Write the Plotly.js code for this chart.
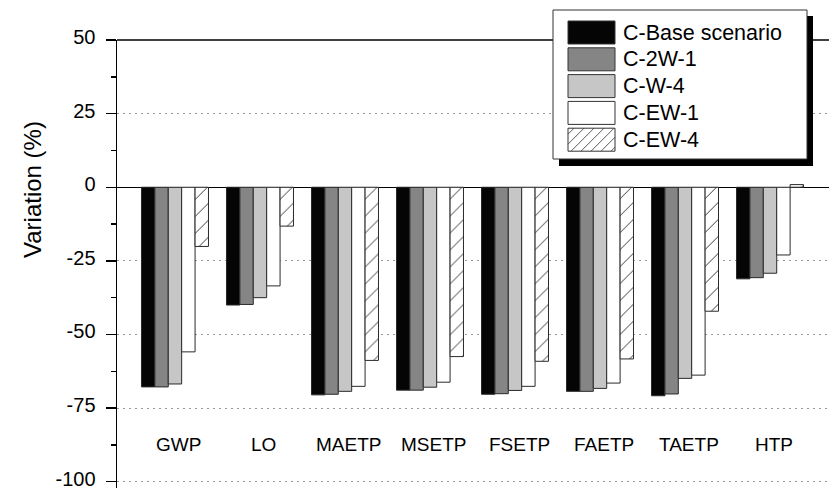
<!DOCTYPE html>
<html>
<head>
<meta charset="utf-8">
<script src="https://cdn.plot.ly/plotly-3.0.1.min.js"></script>
<style>
  html, body { margin: 0; padding: 0; overflow: hidden; background: #fff; }
  #chart { width: 833px; height: 500px; }
</style>
</head>
<body>
<div id="chart"></div>
<script>
// Impact categories
const categories = ['GWP', 'LO', 'MAETP', 'MSETP', 'FSETP', 'FAETP', 'TAETP', 'HTP'];

// Variation (%) per scenario
const seriesNames = ['C-Base scenario', 'C-2W-1', 'C-W-4', 'C-EW-1', 'C-EW-4'];
const baseScenario = [-67.8, -40.0, -70.5, -68.9, -70.3, -69.3, -70.8, -31.1];
const c2w1        = [-67.8, -39.8, -70.3, -68.9, -70.1, -69.3, -70.2, -30.7];
const cw4         = [-66.8, -37.5, -69.3, -67.9, -69.0, -68.3, -64.9, -29.2];
const cew1        = [-55.9, -33.5, -67.6, -66.2, -67.6, -66.5, -63.8, -23.0];
const cew4        = [-20.1, -13.2, -58.8, -57.5, -59.1, -58.3, -42.1, 0.9];

// Y-axis ticks (plain hyphen for negatives)
const yTickVals = [50, 25, 0, -25, -50, -75, -100];
const yTickText = ['50', '25', '0', '-25', '-50', '-75', '-100'];
const yMinorVals = [37.5, 12.5, -12.5, -37.5, -62.5, -87.5];

const seriesValues = [baseScenario, c2w1, cw4, cew1, cew4];
const fills = ['#050505', '#858585', '#c6c6c6', '#ffffff', '#ffffff'];
const hatched = [false, false, false, false, true];

const FONT = 'Liberation Sans, Arial, Helvetica, sans-serif';

const traces = seriesValues.map((vals, i) => {
  const marker = {
    color: fills[i],
    line: { color: '#2a2a2a', width: 1 }
  };
  if (hatched[i]) {
    marker.pattern = { shape: '/', size: 12, solidity: 0.08, fgcolor: '#333', bgcolor: '#ffffff', fillmode: 'replace' };
  }
  return {
    type: 'bar',
    name: seriesNames[i],
    x: categories,
    y: vals,
    marker: marker,
    showlegend: false,
    hoverinfo: 'x+y+name'
  };
});

// Plot geometry in pixels (used for the hand-built legend box)
const W = 833, H = 500, L = 117, T = 40;
const PW = W - L, PH = H - T;
const px = x => (x - L) / PW;
const py = y => (H - y) / PH;

const shapes = [];
const annotations = [];

// Top frame line at the upper end of the value axis
shapes.push({ type: 'line', xref: 'paper', yref: 'paper', layer: 'above',
  x0: 0, x1: 1, y0: 1, y1: 1, line: { color: '#000', width: 1.5 } });

// Legend: drop shadow, then framed box
shapes.push({ type: 'rect', xref: 'paper', yref: 'paper', layer: 'above',
  x0: px(559), x1: px(813), y0: py(166), y1: py(16),
  fillcolor: '#000', line: { width: 0 } });
shapes.push({ type: 'rect', xref: 'paper', yref: 'paper', layer: 'above',
  x0: px(553), x1: px(807), y0: py(159), y1: py(10),
  fillcolor: '#fff', line: { color: '#333', width: 1 } });

const swX0 = 568, swX1 = 615, swH = 23, rowStep = 26.8, firstTop = 21;
seriesNames.forEach((name, i) => {
  const top = firstTop + i * rowStep, bot = top + swH;
  shapes.push({ type: 'rect', xref: 'paper', yref: 'paper', layer: 'above',
    x0: px(swX0), x1: px(swX1), y0: py(bot), y1: py(top),
    fillcolor: fills[i], line: { color: '#333', width: 1 } });
  if (hatched[i]) {
    // diagonal '/' hatching clipped to the swatch
    for (let c = swX0 + top + 6; c < swX1 + bot; c += 10) {
      const xa = Math.max(swX0, c - bot), xb = Math.min(swX1, c - top);
      if (xb <= xa) continue;
      shapes.push({ type: 'line', xref: 'paper', yref: 'paper', layer: 'above',
        x0: px(xa), y0: py(c - xa), x1: px(xb), y1: py(c - xb),
        line: { color: '#333', width: 0.8 } });
    }
  }
  annotations.push({ xref: 'paper', yref: 'paper', x: px(621), y: py(top + swH / 2),
    xanchor: 'left', yanchor: 'middle', showarrow: false, text: name,
    font: { family: FONT, size: 21.5, color: '#000' } });
});

// Category labels sit inside the plot, below the bars
categories.forEach(cat => {
  annotations.push({ xref: 'x', yref: 'y', x: cat, y: -87.2, xshift: 4,
    showarrow: false, text: cat, yanchor: 'middle',
    font: { family: FONT, size: 19, color: '#000' } });
});

// Y-axis title
annotations.push({ xref: 'paper', yref: 'paper', x: px(32), y: py(190),
  xanchor: 'center', yanchor: 'middle', showarrow: false, textangle: -90,
  text: 'Variation (%)', font: { family: FONT, size: 24, color: '#000' } });

const layout = {
  width: W, height: H,
  margin: { l: L, r: 0, t: T, b: 0, pad: 0 },
  paper_bgcolor: '#fff', plot_bgcolor: '#fff',
  barmode: 'group', bargap: 0.212, bargroupgap: 0,
  font: { family: FONT, color: '#000' },
  xaxis: {
    type: 'category', range: [-0.682, 7.741],
    showticklabels: false, ticks: '', showgrid: false, zeroline: false,
    showline: false
  },
  yaxis: {
    range: [-106.2, 50], tickmode: 'array', tickvals: yTickVals, ticktext: yTickText,
    ticks: 'outside', ticklen: 10, tickwidth: 1.5, tickcolor: '#000',
    ticklabelstandoff: 6, ticklabelshift: -3,
    tickfont: { family: FONT, size: 20, color: '#000' },
    showline: true, mirror: false, linecolor: '#000', linewidth: 1.5,
    showgrid: true, gridcolor: '#999', gridwidth: 1, griddash: '2px,4px',
    zeroline: true, zerolinecolor: '#000', zerolinewidth: 1.5,
    minor: { tickmode: 'array', tickvals: yMinorVals, ticks: 'outside', ticklen: 5, tickwidth: 1.5, tickcolor: '#000', showgrid: false }
  },
  shapes: shapes,
  annotations: annotations,
  showlegend: false
};

Plotly.newPlot('chart', traces, layout, { displayModeBar: false, staticPlot: true });
</script>
</body>
</html>
